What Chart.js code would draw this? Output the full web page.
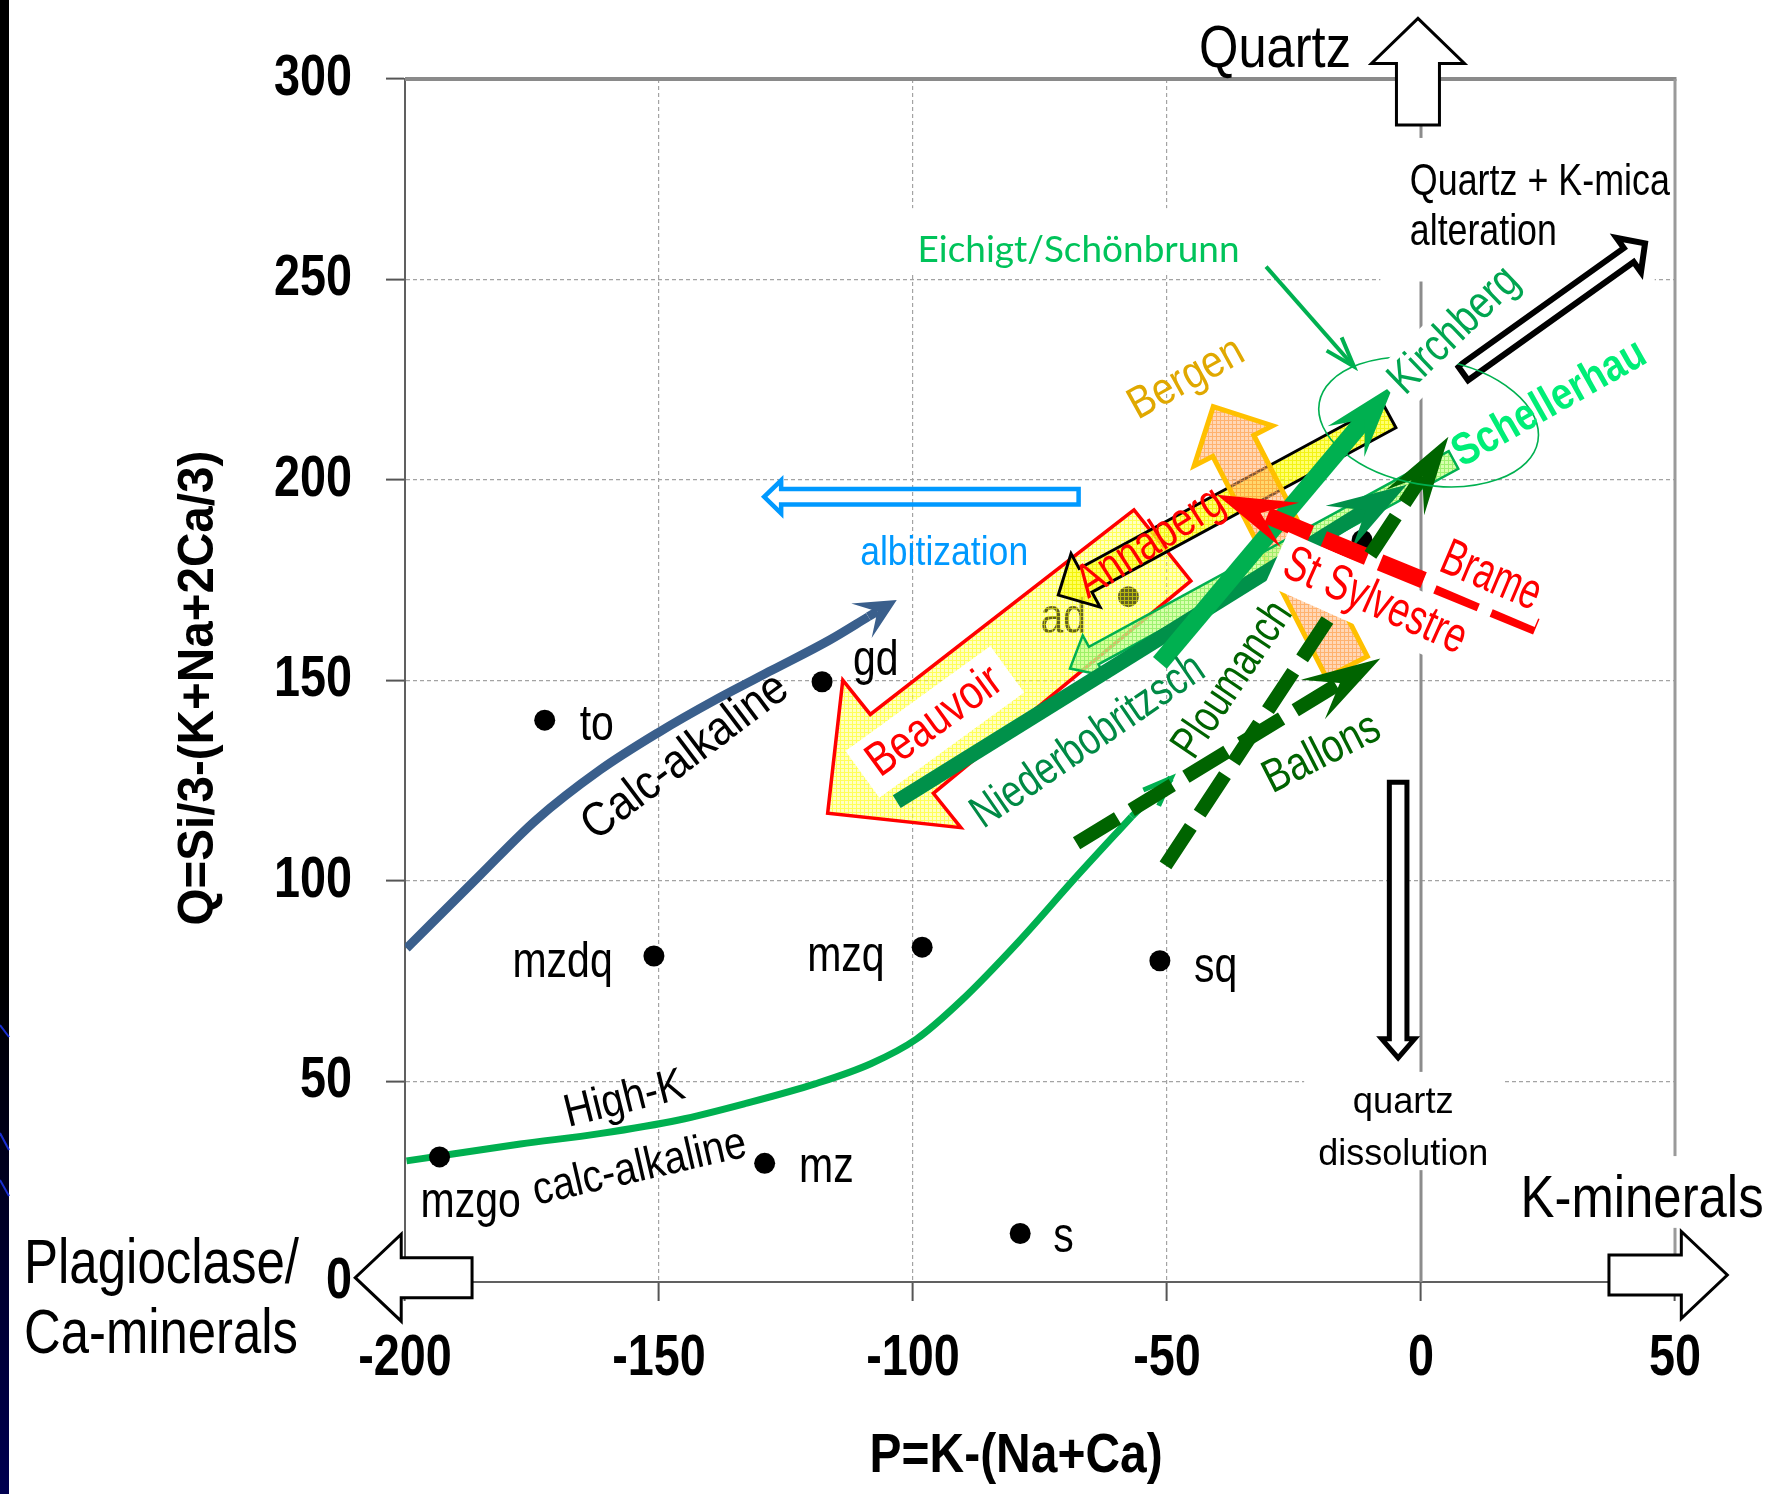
<!DOCTYPE html>
<html>
<head>
<meta charset="utf-8">
<title>P-Q diagram</title>
<script src="https://cdn.jsdelivr.net/npm/chart.js@4.4.1/dist/chart.umd.min.js"></script>
<style>
html,body{margin:0;padding:0;background:#fff;overflow:hidden;}
canvas{display:block;}
</style>
</head>
<body>
<canvas id="chart" width="1774" height="1494"></canvas>
<script>
// ================= DATA =================
const X_TICKS = [-200, -150, -100, -50, 0, 50];
const X_TICK_LABELS = ['-200', '-150', '-100', '-50', '0', '50'];
const Y_TICKS = [0, 50, 100, 150, 200, 250, 300];
const Y_TICK_LABELS = ['0', '50', '100', '150', '200', '250', '300'];

// reference rock compositions (P, Q)
const SAMPLE_NAMES = ['to', 'gd', 'ad', 'mzdq', 'mzq', 'sq', 'mzgo', 'mz', 's', ''];
const SAMPLE_P = [-172.5, -117.9, -57.6, -151.0, -98.2, -51.4, -193.2, -129.2, -78.9, -11.6];
const SAMPLE_Q = [140.1, 149.7, 170.9, 81.3, 83.5, 80.1, 31.2, 29.6, 12.1, 185.0];

// magmatic trends (last point = arrow tip)
const CALC_ALK_P = [-199.7, -185.6, -174.2, -161.6, -150.3, -139.0, -127.7, -116.4, -108.8, -103.2];
const CALC_ALK_Q = [83.2, 101.0, 115.2, 127.7, 136.9, 145.1, 152.6, 160.1, 165.9, 170.1];
const HIGHK_P = [-199.7, -190.6, -177.3, -161.7, -146.1, -132.7, -119.3, -108.2, -99.3, -90.4, -79.2, -68.1, -57.0, -49.2];
const HIGHK_Q = [30.2, 31.9, 34.4, 37.0, 40.4, 44.6, 49.4, 54.5, 60.6, 70.3, 84.9, 100.7, 116.0, 125.6];

// trend / process vectors: start (P0,Q0) -> end (P1,Q1)
const ARROW_NAMES = ['Beauvoir', 'Annaberg', 'Bergen', 'Schellerhau', 'Niederbobritzsch', 'Kirchberg', 'Brame',
  'Ploumanch', 'Ballons', 'albitization', 'QzKmica', 'qzDissolution', 'Quartz', 'Kminerals', 'Plagioclase', 'Eichigt'];
const ARROW_P0 = [-50.9, -6.2, -14.6, 6.4, -103.2, -51.4, 22.7, -50.3, -67.8, -67.4, 8.3, -4.5, -0.6, 37.0, -186.8, -30.5];
const ARROW_Q0 = [183.7, 216.0, 153.4, 205.0, 119.8, 154.4, 163.4, 103.9, 109.4, 195.8, 226.6, 124.6, 288.5, 1.75, 1.07, 253.2];
const ARROW_P1 = [-116.8, -71.4, -40.9, -69.1, -2.8, -5.4, -40.2, 5.4, -8.0, -129.3, 44.1, -4.5, -0.6, 60.3, -209.8, -13.2];
const ARROW_Q1 = [116.9, 171.3, 218.3, 153.0, 198.8, 223.7, 196.3, 210.8, 155.5, 195.8, 259.0, 55.9, 315.1, 1.75, 1.07, 228.3];

// Eichigt/Schönbrunn field (ellipse centre)
const FIELD_P = [1.5];
const FIELD_Q = [214.5];

// white label boxes (P0,Q0)-(P1,Q1)
const BOX_P0 = [-8.0, -23.0, 18.6, -101.6];
const BOX_Q0 = [285.3, 52.4, 31.4, 267.8];
const BOX_P1 = [46.0, 16.2, 68.8, -33.6];
const BOX_Q1 = [249.5, 27.9, 13.5, 251.9];

// annotation texts and their anchor (P,Q)
const NOTE_TEXT = ['Quartz', 'Quartz + K-mica', 'alteration', 'Eichigt/Schönbrunn', 'albitization', 'quartz', 'dissolution',
  'K-minerals', 'Plagioclase/', 'Ca-minerals', 'Calc-alkaline', 'High-K', 'calc-alkaline', 'Niederbobritzsch', 'Ploumanch',
  'Ballons', 'Beauvoir', 'Annaberg', 'Bergen', 'Kirchberg', 'Schellerhau', 'St Sylvestre', 'Brame',
  'Q=Si/3-(K+Na+2Ca/3)', 'P=K-(Na+Ca)'];
const NOTE_P = [-43.7, -2.2, -2.2, -99.1, -110.4, -3.5, -3.5, 19.6, -275.0, -275.0, -144.8, -156.8, -153.8, -65.5, -37.0,
  -19.5, -95.7, -53.2, -46.2, 6.6, 25.3, -9.1, 13.7, -240.5, -79.7];
const NOTE_Q = [303.1, 271.1, 258.6, 254.4, 178.8, 42.1, 29.2, 16.3, -0.3, -17.8, 130.9, 45.4, 28.4, 134.7, 150.1,
  131.7, 139.7, 184.3, 225.2, 237.2, 219.0, 169.6, 175.8, 148.1, -47.3];

// ================= STYLE =================
const SANS = '"Liberation Sans", Arial, sans-serif';
const NARROW_FACTOR = 0.82;
const SAMPLE_LABEL_DX = [35, 31, -88, -141.5, -115, 34, -19, 34.4, 33, 0];
const SAMPLE_LABEL_DY = [20, -7, 36, 21, 24, 21, 60, 18.4, 18.4, 0];

const NOTE_STYLE = [
  {size: 60, w: 152},
  {size: 44, w: 260},
  {size: 44, w: 147},
  {size: 37, w: 322, family: 'Lato, "Open Sans", sans-serif', color: '#00c35a'},
  {size: 41, w: 168, color: '#0099ff'},
  {size: 37, w: 101, align: 'center'},
  {size: 37, w: 170, align: 'center'},
  {size: 60, w: 243},
  {size: 63, w: 275},
  {size: 63, w: 274},
  {size: 48, w: 245, rot: -37},
  {size: 46, w: 122, rot: -14},
  {size: 46, w: 218, rot: -13},
  {size: 46, w: 272, rot: -34.5, color: '#008a45'},
  {size: 46, w: 178, rot: -56, color: '#006400'},
  {size: 47, w: 125, rot: -27, color: '#006400'},
  {size: 48, w: 155, rot: -36, color: '#ff0000', box: 12},
  {size: 48, w: 166, rot: -32.7, color: '#ff0000'},
  {size: 45, w: 125, rot: -29, color: '#e0a800'},
  {size: 46, w: 162, rot: -44, color: '#00a550', box: 8},
  {size: 45, w: 215, rot: -29.5, color: '#00ee77', bold: true},
  {size: 50, w: 195, rot: 24, color: '#ff0000', box: 10},
  {size: 52, w: 104, rot: 23, color: '#ff0000', box: 8},
  {size: 50, w: 475, rot: -90, bold: true},
  {size: 56, w: 293, bold: true, align: 'center'}
];

const ARROW_STYLE = {
  Beauvoir: {kind: 'block', sw: 91, sw2: 101, hw: 189, hl: 95, fill: 'beauvoir', stroke: '#ff0000', lw: 3.5},
  Annaberg: {kind: 'block', sw: 27, hw: 61, hl: 31, fill: 'annaberg', stroke: '#000000', lw: 3},
  Bergen: {kind: 'block', sw: 46, hw: 88, hl: 44, fill: 'bergen', stroke: '#ffc000', lw: 5},
  Schellerhau: {kind: 'block', sw: 20, hw: 46, hl: 27, fill: 'green', stroke: '#00b050', lw: 2.5},
  Niederbobritzsch: {kind: 'line', w: 15, color: '#00914a', hl: 80, hw: 25, notch: 0.6},
  Kirchberg: {kind: 'line', w: 18, color: '#00b050', hl: 74, hw: 24, notch: 0.6},
  Brame: {kind: 'line', w: 17, color: '#ff0000', hl: 79, hw: 24, notch: 0.6, dash: [47, 14]},
  Ploumanch: {kind: 'line', w: 14, color: '#006400', hl: 79, hw: 23, notch: 0.6, dash: [46, 16]},
  Ballons: {kind: 'line', w: 14, color: '#006400', hl: 79, hw: 23, notch: 0.6, dash: [48, 16]},
  albitization: {kind: 'block', sw: 15.5, hw: 33, hl: 17, fill: null, stroke: '#0099ff', lw: 4.5},
  QzKmica: {kind: 'block', sw: 17, hw: 42, hl: 20, fill: '#ffffff', stroke: '#000000', lw: 6},
  qzDissolution: {kind: 'block', sw: 17.6, hw: 33, hl: 19, fill: '#ffffff', stroke: '#000000', lw: 5},
  Quartz: {kind: 'block', sw: 43, hw: 93, hl: 45, fill: '#ffffff', stroke: '#000000', lw: 3},
  Kminerals: {kind: 'block', sw: 40, hw: 87, hl: 46, fill: '#ffffff', stroke: '#000000', lw: 3},
  Plagioclase: {kind: 'block', sw: 40, hw: 87, hl: 46, fill: '#ffffff', stroke: '#000000', lw: 3},
  Eichigt: {kind: 'open', w: 4, color: '#00b050', hl: 30, hw: 10}
};

const TICK_FONT = {family: SANS, size: 57, weight: 'bold'};

// ================= HELPERS =================
function makePattern(ctx, base, baseAlpha, line, lineAlpha) {
  const cv = document.createElement('canvas');
  cv.width = 4; cv.height = 4;
  const g = cv.getContext('2d');
  g.globalAlpha = baseAlpha;
  g.fillStyle = base; g.fillRect(0, 0, 4, 4);
  g.globalAlpha = lineAlpha;
  g.fillStyle = line; g.fillRect(0, 0, 4, 1); g.fillRect(0, 1, 1, 3);
  return ctx.createPattern(cv, 'repeat');
}

function drawText(ctx, s, x, y, o) {
  ctx.save();
  const fam = o.family || SANS;
  ctx.font = (o.bold ? 'bold ' : '') + o.size + 'px ' + fam;
  const w = ctx.measureText(s).width;
  const sx = o.w ? o.w / w : NARROW_FACTOR;
  ctx.translate(x, y);
  if (o.rot) ctx.rotate(o.rot * Math.PI / 180);
  const align = o.align || (o.rot ? 'center' : 'left');
  const base = o.rot ? 'middle' : 'alphabetic';
  if (o.box) {
    const W = w * sx, H = o.size * 0.95, pad = o.box;
    const x0 = align === 'center' ? -W / 2 : 0;
    ctx.fillStyle = '#ffffff';
    ctx.fillRect(x0 - pad, -H / 2 - pad * 0.5, W + 2 * pad, H + pad);
  }
  ctx.scale(sx, 1);
  ctx.textAlign = align;
  ctx.textBaseline = base;
  ctx.fillStyle = o.color || '#000000';
  ctx.fillText(s, 0, 0);
  ctx.restore();
}

function blockPath(ctx, t, h, sw, sw2, hw, hl) {
  const dx = h.x - t.x, dy = h.y - t.y, L = Math.hypot(dx, dy);
  const ux = dx / L, uy = dy / L, nx = -uy, ny = ux;
  const bx = h.x - ux * hl, by = h.y - uy * hl;
  ctx.beginPath();
  ctx.moveTo(t.x + nx * sw / 2, t.y + ny * sw / 2);
  ctx.lineTo(bx + nx * sw2 / 2, by + ny * sw2 / 2);
  ctx.lineTo(bx + nx * hw / 2, by + ny * hw / 2);
  ctx.lineTo(h.x, h.y);
  ctx.lineTo(bx - nx * hw / 2, by - ny * hw / 2);
  ctx.lineTo(bx - nx * sw2 / 2, by - ny * sw2 / 2);
  ctx.lineTo(t.x - nx * sw / 2, t.y - ny * sw / 2);
  ctx.closePath();
}

function lineArrow(ctx, a, b, s) {
  const dx = b.x - a.x, dy = b.y - a.y, L = Math.hypot(dx, dy);
  const ux = dx / L, uy = dy / L, nx = -uy, ny = ux;
  const mx = b.x - ux * s.hl * s.notch, my = b.y - uy * s.hl * s.notch;
  ctx.save();
  ctx.strokeStyle = s.color; ctx.lineWidth = s.w; ctx.lineCap = 'butt';
  ctx.setLineDash(s.dash || []);
  ctx.beginPath(); ctx.moveTo(a.x, a.y); ctx.lineTo(mx, my); ctx.stroke();
  ctx.setLineDash([]);
  const bx = b.x - ux * s.hl, by = b.y - uy * s.hl;
  ctx.fillStyle = s.color;
  ctx.beginPath();
  ctx.moveTo(b.x, b.y);
  ctx.lineTo(bx + nx * s.hw, by + ny * s.hw);
  ctx.lineTo(mx, my);
  ctx.lineTo(bx - nx * s.hw, by - ny * s.hw);
  ctx.closePath(); ctx.fill();
  ctx.restore();
}

function openArrow(ctx, a, b, s, drawShaft) {
  const dx = b.x - a.x, dy = b.y - a.y, L = Math.hypot(dx, dy);
  const ux = dx / L, uy = dy / L, nx = -uy, ny = ux;
  ctx.save();
  ctx.strokeStyle = s.color; ctx.lineWidth = s.w; ctx.lineCap = 'butt'; ctx.lineJoin = 'miter';
  if (drawShaft) { ctx.beginPath(); ctx.moveTo(a.x, a.y); ctx.lineTo(b.x, b.y); ctx.stroke(); }
  if (s.hl > 1) {
    const bx = b.x - ux * s.hl, by = b.y - uy * s.hl;
    ctx.beginPath();
    ctx.moveTo(bx + nx * s.hw, by + ny * s.hw);
    ctx.lineTo(b.x, b.y);
    ctx.lineTo(bx - nx * s.hw, by - ny * s.hw);
    ctx.stroke();
  }
  ctx.restore();
}

// ================= PLUGIN =================
const annot = {
  id: 'annot',
  beforeDraw(chart) {
    const c = chart.ctx;
    c.save();
    c.fillStyle = '#ffffff';
    c.fillRect(0, 0, chart.width, chart.height);
    // slide edge strip
    c.fillStyle = '#000000';
    c.fillRect(0, 0, 9, chart.height);
    const g = c.createLinearGradient(0, 980, 0, chart.height);
    g.addColorStop(0, '#000000'); g.addColorStop(1, '#000050');
    c.fillStyle = g; c.fillRect(0, 980, 9, chart.height - 980);
    c.strokeStyle = '#1a2fd0'; c.lineWidth = 2;
    [[1025, 1037], [1133, 1150], [1180, 1196]].forEach(([y0, y1]) => {
      c.beginPath(); c.moveTo(0, y0); c.lineTo(9, y1); c.stroke();
    });
    // condensed (narrow) tick labels: use fillText maxWidth
    c.font = 'bold ' + TICK_FONT.size + 'px ' + SANS;
    ['x', 'y'].forEach(id => {
      const sc = chart.scales[id];
      sc.getLabelItems().forEach(it => {
        const lbl = Array.isArray(it.label) ? it.label[0] : it.label;
        it.options.maxWidth = c.measureText(String(lbl)).width * NARROW_FACTOR;
      });
    });
    c.restore();
  },
  beforeDatasetsDraw(chart) {
    const c = chart.ctx, xs = chart.scales.x, ys = chart.scales.y, a = chart.chartArea;
    c.save();
    const x0 = xs.getPixelForValue(0);
    c.strokeStyle = '#8c8c8c'; c.lineWidth = 3;
    c.beginPath(); c.moveTo(x0, a.top); c.lineTo(x0, a.bottom); c.stroke();
    c.strokeStyle = '#8a8a8a'; c.lineWidth = 4;
    c.beginPath(); c.moveTo(a.left, a.top); c.lineTo(a.right + 1.5, a.top); c.stroke();
    c.strokeStyle = '#9a9a9a'; c.lineWidth = 3;
    c.beginPath(); c.moveTo(a.right, a.top); c.lineTo(a.right, a.bottom); c.stroke();
    c.fillStyle = '#ffffff';
    for (let i = 0; i < BOX_P0.length; i++) {
      const px0 = xs.getPixelForValue(BOX_P0[i]), px1 = xs.getPixelForValue(BOX_P1[i]);
      const py0 = ys.getPixelForValue(BOX_Q0[i]), py1 = ys.getPixelForValue(BOX_Q1[i]);
      c.fillRect(px0, py0, px1 - px0, py1 - py0);
    }
    c.restore();
  },
  afterDatasetsDraw(chart) {
    const c = chart.ctx, xs = chart.scales.x, ys = chart.scales.y;
    const P = v => xs.getPixelForValue(v), Q = v => ys.getPixelForValue(v);
    const fills = {
      beauvoir: makePattern(c, '#ffff60', 0.38, '#ffff00', 0.55),
      annaberg: makePattern(c, '#ffff30', 0.7, '#f0f000', 0.8),
      bergen: makePattern(c, '#ffb070', 0.5, '#ff9a40', 0.6),
      green: makePattern(c, '#c8ff90', 0.75, '#90ee60', 0.8)
    };

    // sample labels
    SAMPLE_NAMES.forEach((n, i) => {
      if (!n) return;
      drawText(c, n, P(SAMPLE_P[i]) + SAMPLE_LABEL_DX[i], Q(SAMPLE_Q[i]) + SAMPLE_LABEL_DY[i], {size: 50});
    });

    // calc-alkaline arrow end (stealth head)
    {
      const n = CALC_ALK_P.length;
      const a = {x: P(CALC_ALK_P[n - 2]), y: Q(CALC_ALK_Q[n - 2])};
      const b = {x: P(CALC_ALK_P[n - 1]), y: Q(CALC_ALK_Q[n - 1])};
      lineArrow(c, a, b, {w: 9, color: '#3a5f8c', hl: 41, hw: 20, notch: 0.55});
    }
    // high-K arrow end (open head)
    {
      const n = HIGHK_P.length;
      const a = {x: P(HIGHK_P[n - 2]), y: Q(HIGHK_Q[n - 2])};
      const b = {x: P(HIGHK_P[n - 1]), y: Q(HIGHK_Q[n - 1])};
      openArrow(c, a, b, {w: 7, color: '#00b050', hl: 0, hw: 0}, true);
      openArrow(c, a, b, {w: 5, color: '#00b050', hl: 28, hw: 11}, false);
    }

    // trend / process vectors
    ARROW_NAMES.forEach((name, i) => {
      const s = ARROW_STYLE[name];
      const a = {x: P(ARROW_P0[i]), y: Q(ARROW_Q0[i])};
      const b = {x: P(ARROW_P1[i]), y: Q(ARROW_Q1[i])};
      if (s.kind === 'block') {
        c.save();
        blockPath(c, a, b, s.sw, s.sw2 || s.sw, s.hw, s.hl);
        if (s.fill) { c.fillStyle = fills[s.fill] || s.fill; c.fill(); }
        c.lineJoin = 'miter'; c.miterLimit = 10;
        c.strokeStyle = s.stroke; c.lineWidth = s.lw; c.stroke();
        c.restore();
      } else if (s.kind === 'line') {
        lineArrow(c, a, b, s);
      } else {
        openArrow(c, a, b, s, true);
      }
    });

    // Eichigt/Schönbrunn field
    c.save();
    c.strokeStyle = '#00b050'; c.lineWidth = 1.6;
    c.beginPath();
    c.ellipse(P(FIELD_P[0]), Q(FIELD_Q[0]), 111, 63, 10 * Math.PI / 180, 0, Math.PI * 2);
    c.stroke();
    c.restore();

    // annotation texts
    NOTE_TEXT.forEach((t, i) => drawText(c, t, P(NOTE_P[i]), Q(NOTE_Q[i]), NOTE_STYLE[i]));
  }
};

// ================= CHART =================
const toXY = (px, qy, n) => px.slice(0, n).map((p, i) => ({x: p, y: qy[i]}));

new Chart(document.getElementById('chart').getContext('2d'), {
  type: 'scatter',
  data: {
    datasets: [
      {type: 'line', label: 'Calc-alkaline', data: toXY(CALC_ALK_P, CALC_ALK_Q, CALC_ALK_P.length - 1),
       borderColor: '#3a5f8c', borderWidth: 9, pointRadius: 0, fill: false, cubicInterpolationMode: 'monotone',
       borderCapStyle: 'butt', order: 3},
      {type: 'line', label: 'High-K calc-alkaline', data: toXY(HIGHK_P, HIGHK_Q, HIGHK_P.length - 1),
       borderColor: '#00b050', borderWidth: 7, pointRadius: 0, fill: false, cubicInterpolationMode: 'monotone',
       borderCapStyle: 'butt', order: 2},
      {label: 'rocks', data: toXY(SAMPLE_P, SAMPLE_Q, SAMPLE_P.length),
       backgroundColor: '#000000', borderWidth: 0, pointRadius: 10.5, order: 1}
    ]
  },
  options: {
    responsive: false,
    animation: false,
    devicePixelRatio: 1,
    events: [],
    layout: {padding: {left: 0, top: 79, right: 99, bottom: 0}},
    plugins: {legend: {display: false}, tooltip: {enabled: false}, title: {display: false}},
    scales: {
      x: {
        type: 'linear', min: -200, max: 50,
        afterBuildTicks(s) { s.ticks = X_TICKS.map(v => ({value: v})); },
        afterFit(s) { s.height = 212; },
        ticks: {font: TICK_FONT, color: '#000000', padding: 24, maxRotation: 0, minRotation: 0,
                callback: v => X_TICK_LABELS[X_TICKS.indexOf(v)]},
        grid: {color: ctx => (ctx.tick && [-200, 0, 50].includes(ctx.tick.value)) ? 'rgba(0,0,0,0)' : '#a3a3a3',
               lineWidth: 1.2, tickLength: 19, tickColor: '#555555', tickWidth: 2},
        border: {display: true, color: '#606060', width: 2, dash: [4, 3]}
      },
      y: {
        type: 'linear', min: 0, max: 300,
        afterBuildTicks(s) { s.ticks = Y_TICKS.map(v => ({value: v})); },
        afterFit(s) { s.width = 405; },
        ticks: {font: TICK_FONT, color: '#000000', padding: 34,
                callback: v => Y_TICK_LABELS[Y_TICKS.indexOf(v)]},
        grid: {color: ctx => (ctx.tick && [0, 300].includes(ctx.tick.value)) ? 'rgba(0,0,0,0)' : '#a3a3a3',
               lineWidth: 1.2, tickLength: 19, tickColor: '#555555', tickWidth: 2},
        border: {display: true, color: '#606060', width: 2, dash: [4, 3]}
      }
    }
  },
  plugins: [annot]
});
</script>
</body>
</html>
